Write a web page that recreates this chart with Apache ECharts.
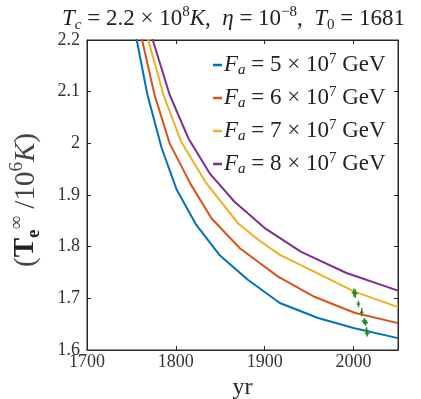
<!DOCTYPE html>
<html>
<head>
<meta charset="utf-8">
<script src="https://cdn.jsdelivr.net/npm/echarts@6/dist/echarts.min.js"></script>
<style>
html,body{margin:0;padding:0;background:#fff;}
#chart{width:421px;height:399px;}
</style>
</head>
<body>
<div id="chart"></div>
<script>
// ---- data ----
const seriesNames = ['5', '6', '7', '8'];
const blueYears   = [1750, 1756, 1768, 1784, 1801, 1823, 1849, 1881, 1917, 1960, 2001, 2050];
const blueTemps   = [2.255, 2.200, 2.094, 1.991, 1.910, 1.842, 1.784, 1.736, 1.691, 1.662, 1.642, 1.623];
const orangeYears = [1755, 1762, 1776, 1793, 1816, 1840, 1872, 1894, 1915, 1956, 2001, 2050];
const orangeTemps = [2.253, 2.200, 2.094, 2.000, 1.923, 1.855, 1.797, 1.769, 1.742, 1.703, 1.672, 1.652];
const yellowYears = [1760, 1769, 1786, 1806, 1833, 1870, 1894, 1917, 1955, 2001, 2050];
const yellowTemps = [2.256, 2.200, 2.094, 2.003, 1.926, 1.845, 1.812, 1.784, 1.752, 1.713, 1.683];
const purpleYears = [1765, 1774, 1793, 1814, 1838, 1866, 1900, 1941, 1992, 2050];
const purpleTemps = [2.249, 2.200, 2.094, 2.010, 1.942, 1.887, 1.836, 1.790, 1.749, 1.715];
// observations: year, temperature, temperature error, year error
const obsYears = [2000.5, 2002.0, 2005.5, 2009.2, 2012.0, 2013.6, 2014.6, 2015.3];
const obsTemps = [1.711, 1.709, 1.689, 1.673, 1.656, 1.653, 1.638, 1.632];
const obsTErr  = [0.008, 0.008, 0.006, 0.008, 0.006, 0.006, 0.006, 0.006];
const obsYErr  = [1.0, 1.0, 0.3, 0.3, 1.0, 1.0, 0.3, 1.0];
const xTicks = [1700, 1800, 1900, 2000];

const colors = ['#0072BD', '#D95319', '#EDB120', '#7E2F8E'];
const serif = "'Liberation Serif', 'DejaVu Serif', serif";

function pairs(xs, ys) { return xs.map((x, i) => [x, ys[i]]); }
const curveData = [pairs(blueYears, blueTemps), pairs(orangeYears, orangeTemps),
                   pairs(yellowYears, yellowTemps), pairs(purpleYears, purpleTemps)];
const obsData = obsYears.map((x, i) => [x, obsTemps[i], obsTErr[i], obsYErr[i]]);

const chart = echarts.init(document.getElementById('chart'));

function makeRich(base, small, lh, slh) {
  const c = '#222';
  return {
    n: {fontFamily: serif, fontSize: base, lineHeight: lh, fontWeight: 'normal', color: c},
    i: {fontFamily: serif, fontSize: base, lineHeight: lh, fontWeight: 'normal', fontStyle: 'italic', color: c},
    sup: {fontFamily: serif, fontSize: small, lineHeight: slh, fontWeight: 'normal', verticalAlign: 'top', color: c},
    sub: {fontFamily: serif, fontSize: small, lineHeight: slh, fontWeight: 'normal', verticalAlign: 'bottom', fontStyle: 'italic', color: c},
    subr: {fontFamily: serif, fontSize: small, lineHeight: slh, fontWeight: 'normal', verticalAlign: 'bottom', color: c}
  };
}
const titleRich = makeRich(23, 15, 28, 16);
const legendRich = makeRich(23, 15, 26, 15);

const yc = '#444';
const yRich = {
  n: {fontFamily: serif, fontSize: 29, lineHeight: 36, fontWeight: 'normal', color: yc},
  b: {fontFamily: serif, fontSize: 29, lineHeight: 36, fontWeight: 'bold', color: '#222'},
  i: {fontFamily: serif, fontSize: 29, lineHeight: 36, fontWeight: 'normal', fontStyle: 'italic', color: yc},
  sup: {fontFamily: serif, fontSize: 19, lineHeight: 20, fontWeight: 'normal', verticalAlign: 'top', color: yc},
  subb: {fontFamily: serif, fontSize: 19, lineHeight: 20, verticalAlign: 'bottom', fontWeight: 'bold', color: '#222'}
};

const series = curveData.map((d, k) => ({
  name: seriesNames[k],
  type: 'line',
  data: d,
  showSymbol: false,
  symbol: 'none',
  lineStyle: {width: 2, color: colors[k]},
  itemStyle: {color: colors[k]},
  clip: true,
  z: 2
}));

series.push({
  name: 'obs',
  type: 'custom',
  data: obsData,
  encode: {x: 0, y: 1},
  z: 5,
  renderItem: function (params, api) {
    const x = api.value(0), y = api.value(1), dy = api.value(2), dx = api.value(3);
    const a = api.coord([x, y - dy]), b = api.coord([x, y + dy]);
    const c = api.coord([x - dx, y]), d = api.coord([x + dx, y]);
    const st = {stroke: '#1a8a1a', lineWidth: 1.5};
    return {type: 'group', children: [
      {type: 'line', shape: {x1: a[0], y1: a[1], x2: b[0], y2: b[1]}, style: st},
      {type: 'line', shape: {x1: c[0] - 1.5, y1: c[1], x2: d[0] + 1.5, y2: d[1]}, style: st}
    ]};
  }
});

const axisColor = '#262626';
const labelStyle = {fontFamily: serif, fontSize: 18, color: '#333'};

chart.setOption({
  animation: false,
  backgroundColor: '#fff',
  title: {
    text: '{i|T}{sub|c}{n| = 2.2 × 10}{sup|8}{i|K}{n|,  }{i|η}{n| = 10}{sup|−8}{n|,  }{i|T}{subr|0}{n| = 1681}',
    left: 57,
    top: 0,
    textStyle: {rich: titleRich, fontFamily: serif, fontSize: 23, fontWeight: 'normal'}
  },
  legend: {
    data: seriesNames,
    orient: 'vertical',
    left: 208,
    top: 47,
    itemGap: 7,
    itemWidth: 9,
    itemHeight: 2.5,
    icon: 'rect',
    selectedMode: false,
    formatter: function (name) {
      return '{i|F}{sub|a}{n| = ' + name + ' × 10}{sup|7}{n| GeV}';
    },
    textStyle: {rich: legendRich, fontFamily: serif, fontSize: 23, padding: [0, 0, 0, -3]}
  },
  grid: {left: 87, right: 23, top: 40, bottom: 49, outerBoundsMode: 'none', containLabel: false,
         show: true, borderColor: axisColor, borderWidth: 1, backgroundColor: 'transparent'},
  xAxis: [{
    type: 'value', min: 1700, max: 2050, interval: 100,
    name: 'yr', nameLocation: 'middle', nameGap: 24,
    nameTextStyle: {fontFamily: serif, fontSize: 24, color: '#262626'},
    axisLine: {show: true, lineStyle: {color: axisColor}},
    axisTick: {show: true, inside: true, length: 4, lineStyle: {color: axisColor}},
    axisLabel: {
      ...labelStyle, margin: 3,
      formatter: v => (xTicks.indexOf(v) >= 0 ? String(v) : '')
    },
    splitLine: {show: false}
  }, {
    type: 'value', min: 1700, max: 2050, interval: 100, position: 'top',
    axisLine: {show: true, lineStyle: {color: axisColor}},
    axisTick: {show: true, inside: true, length: 4, lineStyle: {color: axisColor}},
    axisLabel: {show: false}, splitLine: {show: false}
  }],
  yAxis: [{
    type: 'value', min: 1.6, max: 2.2, interval: 0.1,
    name: '{n|(}{b|T}{subb|e}{sup|∞}{n| /10}{sup|6}{i|K}{n|)}',
    nameLocation: 'middle', nameGap: 43, nameRotate: 90,
    nameTextStyle: {rich: yRich, fontFamily: serif, fontSize: 29, fontWeight: 'normal', padding: [0, 10, 0, 0]},
    axisLine: {show: true, lineStyle: {color: axisColor}},
    axisTick: {show: true, inside: true, length: 4, lineStyle: {color: axisColor}},
    axisLabel: {...labelStyle, margin: 7, formatter: v => String(Math.round(v * 10) / 10)},
    splitLine: {show: false}
  }, {
    type: 'value', min: 1.6, max: 2.2, interval: 0.1, position: 'right',
    axisLine: {show: true, lineStyle: {color: axisColor}},
    axisTick: {show: true, inside: true, length: 4, lineStyle: {color: axisColor}},
    axisLabel: {show: false}, splitLine: {show: false}
  }],
  series: series
});
</script>
</body>
</html>
